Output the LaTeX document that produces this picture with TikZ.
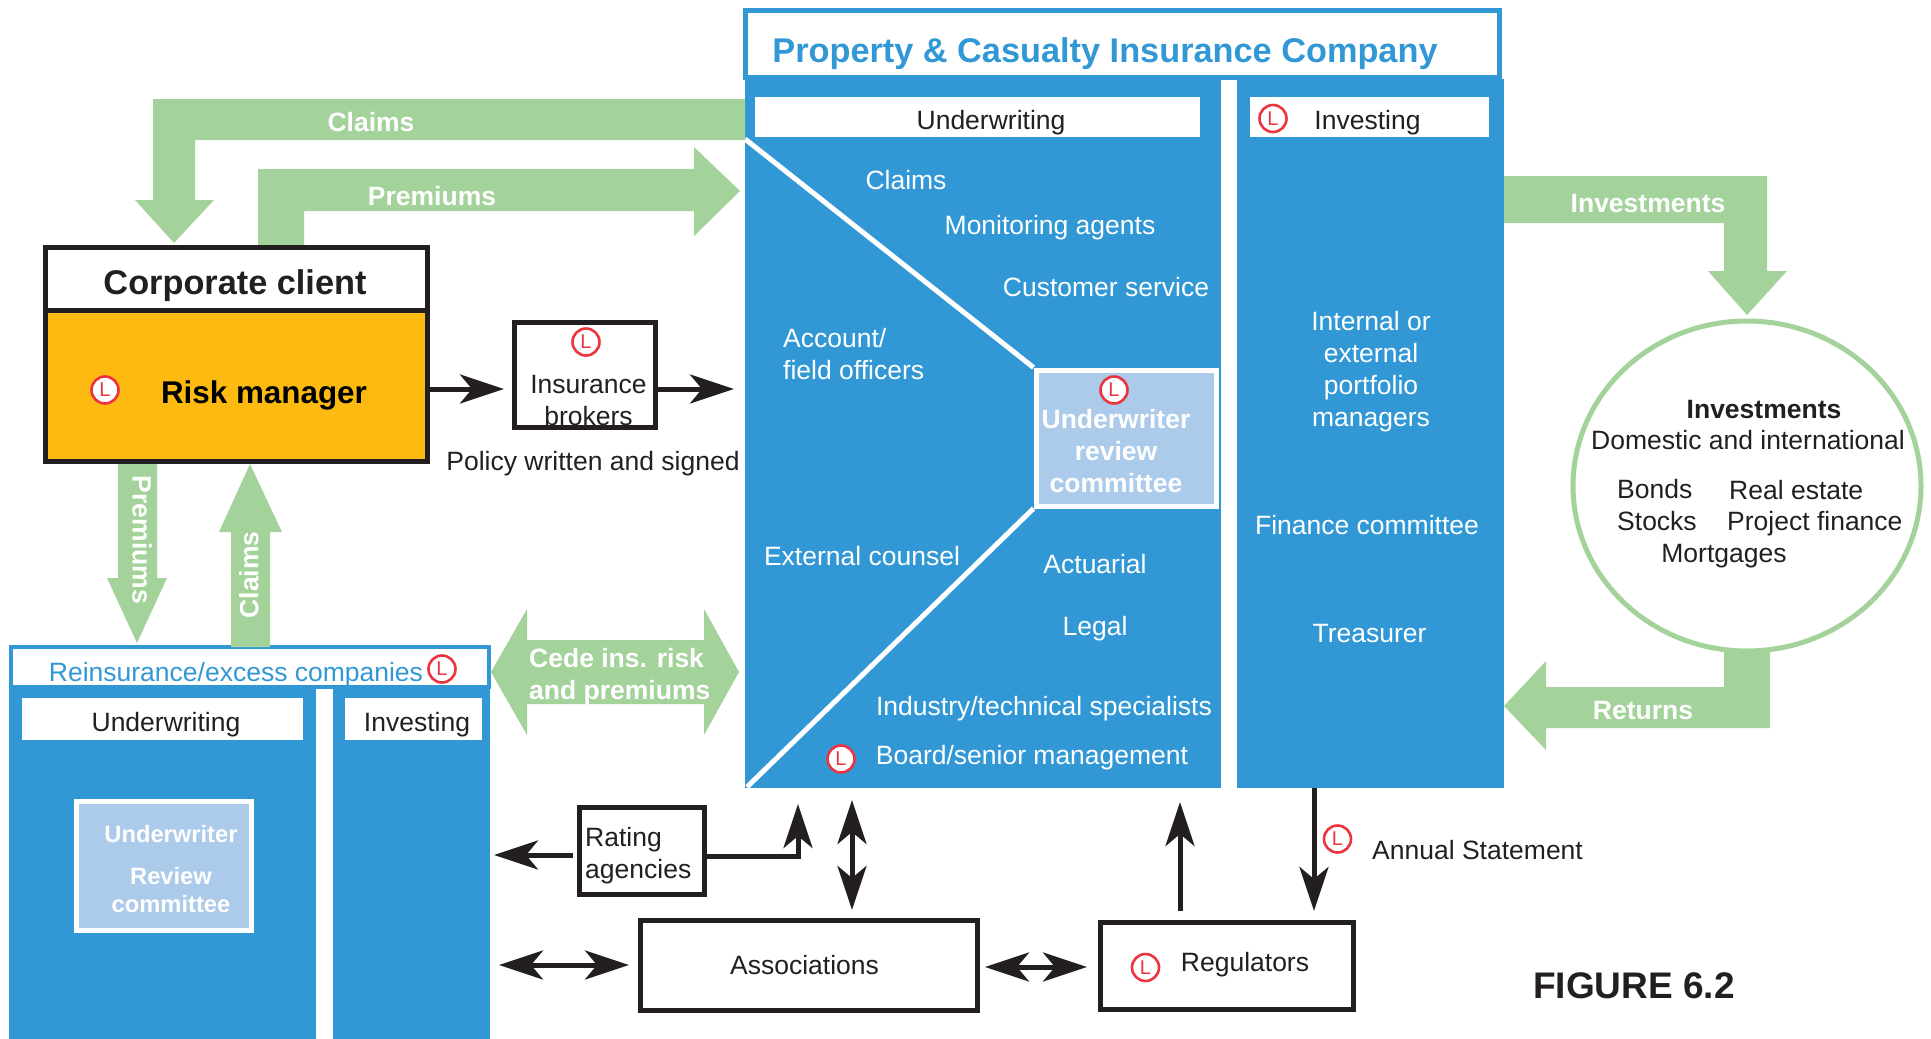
\documentclass[tikz,border=0pt]{standalone}
\usepackage{fontspec}
\setmainfont{Liberation Sans}
\usetikzlibrary{arrows.meta,shapes.geometric}

\definecolor{panelblue}{HTML}{3198D5}
\definecolor{paleblue}{HTML}{ACCBEB}
\definecolor{flowgreen}{HTML}{A3D39B}
\definecolor{clientamber}{HTML}{FDBB11}
\definecolor{ink}{HTML}{231F20}
\definecolor{markred}{HTML}{EC3440}

\tikzset{
	lbl/.style={inner sep=0pt,align=center,text=ink,font=\fontsize{26.5}{32}\selectfont},
	paneltxt/.style={lbl,text=white},
	flowtxt/.style={inner sep=0pt,align=center,text=white,font=\bfseries\fontsize{26.5}{32}\selectfont},
	flow/.style={fill=flowgreen},
	blackbox/.style={draw=ink,line width=5pt,fill=white,inner sep=0pt},
	panel/.style={fill=panelblue,inner sep=0pt},
	whitebox/.style={fill=white,inner sep=0pt},
	titlebox/.style={draw=panelblue,line width=5pt,fill=white,inner sep=0pt},
	review/.style={draw=white,line width=5pt,fill=paleblue,inner sep=0pt},
	lmark/.style={circle,draw=markred,line width=2.6pt,fill=white,text=markred,minimum size=27pt,inner sep=0pt,font=\fontsize{20}{20}\selectfont},
	conn/.style={draw=ink,line width=5pt,-{Stealth[length=44pt,width=29pt,inset=12pt]}},
	conntwo/.style={draw=ink,line width=5pt,{Stealth[length=44pt,width=29pt,inset=12pt]}-{Stealth[length=44pt,width=29pt,inset=12pt]}}
}

\begin{document}
\begin{tikzpicture}[x=1pt,y=-1pt]
	\useasboundingbox (0,0) rectangle (1931,1039);

	% main company
	\node[panel,minimum width=476,minimum height=709] (uwpanel) at (983,433.5) {};
	\node[panel,minimum width=267,minimum height=709] (invpanel) at (1370.5,433.5) {};
	\node[titlebox,minimum width=754,minimum height=67] (ptitle) at (1122,44) {};
	\node[inner sep=0pt,text=panelblue,font=\bfseries\fontsize{34.3}{40}\selectfont] (ptitletxt) at (1105,53.5) {Property \& Casualty Insurance Company};
	\node[whitebox,minimum width=445,minimum height=40] (uwhead) at (977.5,117) {};
	\node[lbl] (uwheadtxt) at (991,122.5) {Underwriting};
	\node[whitebox,minimum width=239,minimum height=40] (invhead) at (1369.5,117) {};
	\node[lbl] (invheadtxt) at (1367.5,122.5) {Investing};
	\node[lmark] (linv) at (1273,118.5) {L};

	\coordinate (wedgetop) at (745,139);
	\coordinate (wedgebot) at (747,787);
	\node[review,minimum width=180,minimum height=136] (urc) at (1126,438) {};
	\draw[white,line width=5pt] (wedgetop) -- (urc.north west);
	\draw[white,line width=5pt] (wedgebot) -- (urc.south west);
	\node[lmark] (lurc) at (1114,390) {L};
	\node[flowtxt] (urctxt) at (1116,451) {Underwriter\\review\\committee};

	\node[paneltxt] (claimstxt) at (906,180) {Claims};
	\node[paneltxt] (agentstxt) at (1050,228) {Monitoring agents};
	\node[paneltxt] (servicetxt) at (1106,287) {Customer service};
	\node[paneltxt,align=left,anchor=west] (accounttxt) at (783,354) {Account/\\field officers};
	\node[paneltxt] (counseltxt) at (862,556) {External counsel};
	\node[paneltxt] (actuarialtxt) at (1095,564) {Actuarial};
	\node[paneltxt] (legaltxt) at (1095,628.5) {Legal};
	\node[paneltxt] (specialiststxt) at (1044,708.5) {Industry/technical specialists};
	\node[paneltxt] (boardtxt) at (1032,757.5) {Board/senior management};
	\node[lmark] (lboard) at (841,759) {L};

	\node[paneltxt] (managerstxt) at (1371,371.5) {Internal or\\external\\portfolio\\managers};
	\node[paneltxt] (financetxt) at (1367,525) {Finance committee};
	\node[paneltxt] (treasurertxt) at (1369.5,634) {Treasurer};

	% reinsurance
	\node[panel,minimum width=307,minimum height=351,anchor=north west] (reuwpanel) at (9,688) {};
	\node[panel,minimum width=157,minimum height=351,anchor=north west] (reinvpanel) at (333,688) {};
	\node[titlebox,draw=panelblue,minimum width=478,minimum height=40,line width=4pt] (retitle) at (250,667) {};
	\node[lbl,text=panelblue] (retitletxt) at (236,674.5) {Reinsurance/excess companies};
	\node[lmark] (lre) at (442,669) {L};
	\node[whitebox,minimum width=281,minimum height=42] (reuwhead) at (162.5,719) {};
	\node[lbl] (reuwheadtxt) at (166,724.5) {Underwriting};
	\node[whitebox,minimum width=137,minimum height=42] (reinvhead) at (413.5,719) {};
	\node[lbl] (reinvheadtxt) at (417,724.5) {Investing};
	\node[review,minimum width=175,minimum height=129] (reurc) at (164,866) {};
	\node[inner sep=0pt,text=white,align=center,font=\bfseries\fontsize{23.7}{28}\selectfont] (reurctxt) at (171,869) {Underwriter\\[14pt]Review\\committee};

	% green flows
	\fill[flow] (745,99) -- (153,99) -- (153,200) -- (135,200) -- (174,243) -- (214,200) -- (195,200) -- (195,140) -- (745,140) -- cycle;
	\node[flowtxt] (fclaims) at (371,122) {Claims};
	\fill[flow] (258,246) -- (258,169) -- (694,169) -- (694,147) -- (740,191) -- (694,236) -- (694,211) -- (304,211) -- (304,246) -- cycle;
	\node[flowtxt] (fpremiums) at (432,196) {Premiums};
	\fill[flow] (118,463) -- (157,463) -- (157,578) -- (167,578) -- (137,643) -- (107,578) -- (118,578) -- cycle;
	\node[flowtxt,rotate=-90] (fpremdown) at (142,540) {Premiums};
	\fill[flow] (231,647) -- (231,532) -- (219,532) -- (250,464) -- (282,532) -- (270,532) -- (270,647) -- cycle;
	\node[flowtxt,rotate=90] (fclaimsup) at (249,575) {Claims};
	\fill[flow] (491,672) -- (527,609) -- (527,640) -- (704,640) -- (704,609) -- (739,672) -- (704,735) -- (704,704) -- (527,704) -- (527,735) -- cycle;
	\node[flowtxt,align=left,anchor=west] (fcede) at (529,676.5) {Cede ins. risk\\and premiums};
	\fill[flow] (1504,176) -- (1767,176) -- (1767,271) -- (1787,271) -- (1747,315) -- (1708,271) -- (1724,271) -- (1724,223) -- (1504,223) -- cycle;
	\node[flowtxt] (finvest) at (1648,204) {Investments};
	\fill[flow] (1770,640) -- (1770,728) -- (1546,728) -- (1546,750) -- (1504,706) -- (1546,661) -- (1546,687) -- (1724,687) -- (1724,640) -- cycle;
	\node[flowtxt] (freturns) at (1643,711) {Returns};

	% investments ellipse
	\node[ellipse,draw=flowgreen,line width=5pt,fill=white,minimum width=348,minimum height=330,inner sep=0pt] (invcircle) at (1747,486) {};
	\node[inner sep=0pt,text=ink,font=\bfseries\fontsize{26.5}{32}\selectfont] (invtitle) at (1764,410) {Investments};
	\node[lbl] (domestic) at (1748,440) {Domestic and international};
	\node[lbl,anchor=west] (bonds) at (1617,489) {Bonds};
	\node[lbl,anchor=west] (stocks) at (1617,521.5) {Stocks};
	\node[lbl,anchor=west] (realestate) at (1729,490) {Real estate};
	\node[lbl,anchor=west] (project) at (1727,523.5) {Project finance};
	\node[lbl] (mortgages) at (1724,556.5) {Mortgages};

	% corporate client
	\node[blackbox,minimum width=382,minimum height=63] (client) at (236.5,278.5) {};
	\node[inner sep=0pt,text=ink,font=\bfseries\fontsize{34.3}{40}\selectfont] (clienttxt) at (235,285.5) {Corporate client};
	\node[blackbox,fill=clientamber,minimum width=382,minimum height=151] (risk) at (236.5,385.5) {};
	\node[inner sep=0pt,text=black,font=\bfseries\fontsize{31.4}{36}\selectfont] (risktxt) at (264,395.5) {Risk manager};
	\node[lmark] (lrisk) at (105,390) {L};

	\node[blackbox,minimum width=141,minimum height=105] (brokers) at (585,374.5) {};
	\node[lmark] (lbrokers) at (586,342) {L};
	\node[lbl] (brokerstxt) at (588.5,401) {Insurance\\brokers};
	\node[lbl] (policytxt) at (593,463.5) {Policy written and signed};

	% lower boxes
	\node[blackbox,minimum width=125,minimum height=87] (rating) at (642,850.5) {};
	\node[lbl,align=left,anchor=west] (ratingtxt) at (585,856) {Rating\\agencies};
	\node[blackbox,minimum width=337,minimum height=90] (assoc) at (808.5,965.5) {};
	\node[lbl] (assoctxt) at (804.5,965) {Associations};
	\node[blackbox,minimum width=253,minimum height=87] (regulators) at (1226.5,965.5) {};
	\node[lbl] (regulatorstxt) at (1245,965) {Regulators};
	\node[lmark] (lreg) at (1145.5,967.5) {L};
	\node[lmark] (lannual) at (1337.5,839) {L};
	\node[lbl,anchor=west] (annualtxt) at (1372,850) {Annual Statement};
	\node[inner sep=0pt,text=ink,font=\bfseries\fontsize{37}{44}\selectfont] (figtxt) at (1634,986) {FIGURE 6.2};

	% connectors
	\coordinate (brokersin) at (504,389);
	\coordinate (policytip) at (734,389);
	\draw[conn] (risk.east |- brokersin) -- (brokersin);
	\draw[conn] (brokers.east |- policytip) -- (policytip);
	\coordinate (ratingout) at (494,855);
	\draw[conn] (rating.west |- ratingout) ++(-4,0) -- (ratingout);
	\coordinate (ratingup) at (798,804);
	\draw[conn] (rating.east |- 0,856) -| (ratingup);
	\coordinate (assoctop) at (852,910);
	\coordinate (panelbot) at (852,800);
	\draw[conntwo] (panelbot) -- (assoctop);
	\coordinate (assocleft) at (499,965);
	\coordinate (assocright) at (629,965);
	\draw[conntwo] (assocleft) -- (assocright);
	\coordinate (regleft) at (985,967);
	\coordinate (regright) at (1087,967);
	\draw[conntwo] (regleft) -- (regright);
	\coordinate (regup) at (1180,802);
	\coordinate (regfoot) at (1180,911);
	\draw[conn] (regfoot) -- (regup);
	\coordinate (annualtop) at (1314,788);
	\coordinate (annualtip) at (1314,911);
	\draw[conn] (annualtop) -- (annualtip);
\end{tikzpicture}
\end{document}
